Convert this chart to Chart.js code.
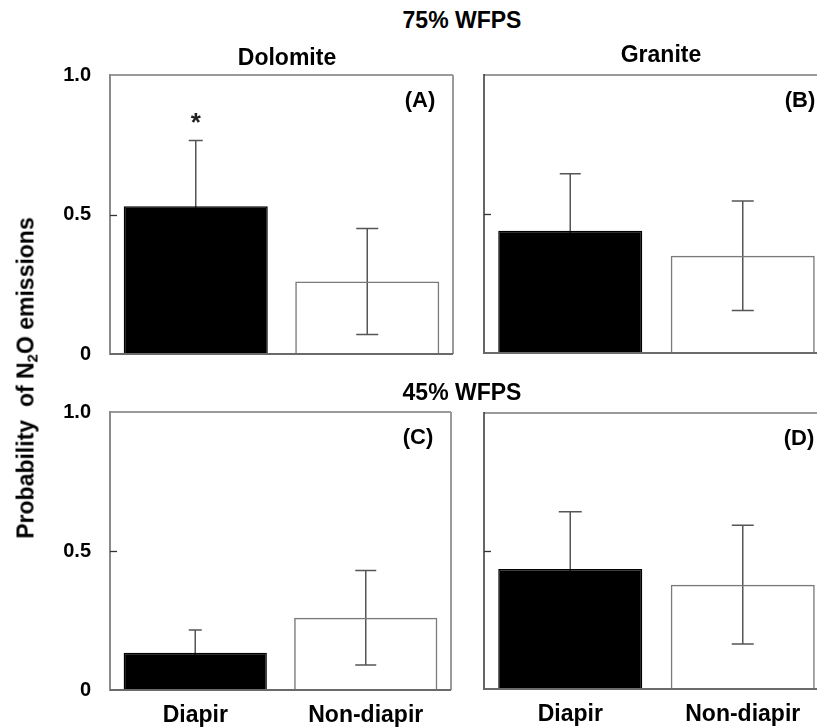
<!DOCTYPE html>
<html>
<head>
<meta charset="utf-8">
<script src="https://cdn.jsdelivr.net/npm/chart.js@4.4.1/dist/chart.umd.min.js"></script>
<style>
  html, body { margin: 0; padding: 0; background: #fff; overflow: hidden; }
  body { width: 817px; height: 728px; position: relative; overflow: hidden; font-family: "Liberation Sans", Arial, sans-serif; font-weight: bold; color: #000; }
  .box { position: absolute; }
  .txt { position: absolute; transform: translate(-50%, -50%); line-height: 1; white-space: nowrap; font-size: 23px; z-index: 2; }
  .lab { font-size: 22px; }
  .ytitle { transform: translate(-50%, -50%) rotate(-90deg); }
  sub { font-size: 15px; vertical-align: -4px; line-height: 0; }
</style>
</head>
<body>

<div class="txt" style="left:462px; top:20px;">75% WFPS</div>
<div class="txt" style="left:287px; top:57px;">Dolomite</div>
<div class="txt" style="left:661px; top:54px;">Granite</div>
<div class="txt" style="left:462px; top:392px;">45% WFPS</div>
<div class="txt lab" style="left:420px; top:100px;">(A)</div>
<div class="txt lab" style="left:800px; top:100px;">(B)</div>
<div class="txt lab" style="left:418px; top:437px;">(C)</div>
<div class="txt lab" style="left:799px; top:438px;">(D)</div>
<div class="txt ytitle" style="left:26px; top:378px;">Probability&nbsp; of N<sub>2</sub>O emissions</div>

<div class="box" style="left:0px; top:50px; width:470px; height:330px;"><canvas id="panelA"></canvas></div>
<div class="box" style="left:460px; top:50px; width:370px; height:330px;"><canvas id="panelB"></canvas></div>
<div class="box" style="left:0px; top:387px; width:470px; height:341px;"><canvas id="panelC"></canvas></div>
<div class="box" style="left:460px; top:388px; width:370px; height:340px;"><canvas id="panelD"></canvas></div>

<script>
// values (probability of N2O emissions, mean and error)
var categories = ["Diapir", "Non-diapir"];
var dolomite75 = [0.53, 0.26];
var dolomite75Err = [0.235, 0.19];
var granite75 = [0.44, 0.35];
var granite75Err = [0.205, 0.197];
var dolomite45 = [0.134, 0.26];
var dolomite45Err = [0.082, 0.17];
var granite45 = [0.435, 0.378];
var granite45Err = [0.207, 0.215];
var yTicks = [0, 0.5, 1.0];

Chart.defaults.font.family = "'Liberation Sans', Arial, sans-serif";
Chart.defaults.font.weight = "bold";
Chart.defaults.color = "#000";

// error bars go behind the bars, so the black bar hides their lower half
var errorBars = {
    id: 'errorBars',
    beforeDatasetsDraw: function (chart, args, opts) {
        var ctx = chart.ctx;
        var y = chart.scales.y;
        var meta = chart.getDatasetMeta(0);
        var vals = chart.data.datasets[0].data;
        ctx.save();
        ctx.strokeStyle = '#555';
        ctx.lineWidth = 1.5;
        meta.data.forEach(function (bar, i) {
            var top = y.getPixelForValue(vals[i] + opts.errors[i]);
            var bot = y.getPixelForValue(Math.max(0, vals[i] - opts.errors[i]));
            var half = opts.caps[i] / 2;
            ctx.beginPath();
            ctx.moveTo(bar.x, top); ctx.lineTo(bar.x, bot);
            ctx.moveTo(bar.x - half, top); ctx.lineTo(bar.x + half, top);
            ctx.moveTo(bar.x - half, bot); ctx.lineTo(bar.x + half, bot);
            ctx.stroke();
        });
        ctx.restore();
    }
};

// frame, the inner 0.5 tick and the significance star
var panelFrame = {
    id: 'panelFrame',
    afterDatasetsDraw: function (chart, args, opts) {
        var ctx = chart.ctx;
        var a = chart.chartArea;
        var y = chart.scales.y;
        var meta = chart.getDatasetMeta(0);
        var vals = chart.data.datasets[0].data;
        ctx.save();

        ctx.lineWidth = 2;
        ctx.strokeStyle = '#9a9a9a';
        ctx.beginPath();
        ctx.moveTo(a.left, a.top); ctx.lineTo(a.right, a.top);
        ctx.moveTo(a.right, a.top); ctx.lineTo(a.right, a.bottom);
        ctx.stroke();
        ctx.strokeStyle = opts.leftColor;
        ctx.lineWidth = opts.leftWidth;
        ctx.beginPath();
        ctx.moveTo(a.left, a.top - 1); ctx.lineTo(a.left, a.bottom + 1);
        ctx.stroke();
        ctx.strokeStyle = '#6a6a6a';
        ctx.lineWidth = 2;
        ctx.beginPath();
        ctx.moveTo(a.left, a.bottom); ctx.lineTo(a.right, a.bottom);
        ctx.stroke();

        var ty = Math.round(y.getPixelForValue(0.5)) + 0.5;
        ctx.strokeStyle = '#333';
        ctx.lineWidth = 1.3;
        ctx.beginPath();
        ctx.moveTo(a.left, ty); ctx.lineTo(a.left + 7, ty);
        ctx.stroke();

        if (opts.star != null) {
            var b = meta.data[opts.star];
            var st = y.getPixelForValue(vals[opts.star] + opts.errors[opts.star]);
            ctx.fillStyle = '#222';
            ctx.font = "bold 26px 'Liberation Sans', Arial, sans-serif";
            ctx.textAlign = 'center';
            ctx.textBaseline = 'alphabetic';
            ctx.fillText('*', b.x, st - 10);
        }
        ctx.restore();
    }
};

function makePanel(id, values, errors, cfg) {
    var ctx = document.getElementById(id).getContext('2d');
    return new Chart(ctx, {
        type: 'bar',
        data: {
            labels: categories,
            datasets: [{
                data: values,
                backgroundColor: ['#000000', 'rgba(255,255,255,0)'],
                borderColor: ['#000000', '#7a7a7a'],
                borderWidth: 1.5,
                barPercentage: cfg.barPct,
                categoryPercentage: 1.0
            }]
        },
        options: {
            responsive: true,
            maintainAspectRatio: false,
            animation: false,
            layout: { padding: cfg.padding },
            plugins: {
                legend: { display: false },
                tooltip: { enabled: false },
                errorBars: { errors: errors, caps: cfg.caps },
                panelFrame: {
                    errors: errors,
                    star: cfg.star,
                    leftColor: cfg.leftColor,
                    leftWidth: cfg.leftWidth
                }
            },
            scales: {
                x: {
                    display: cfg.showX,
                    grid: { display: false, drawTicks: false },
                    border: { display: false },
                    ticks: { padding: 12, font: { size: 23, weight: 'bold' }, color: '#000' },
                    afterFit: function (s) { s.height = cfg.xHeight; }
                },
                y: {
                    min: 0,
                    max: 1,
                    afterBuildTicks: function (s) {
                        s.ticks = yTicks.map(function (v) { return { value: v }; });
                    },
                    grid: { display: false, drawTicks: true, tickLength: 19 },
                    border: { display: false },
                    ticks: {
                        display: cfg.showY,
                        padding: 0,
                        font: { size: 20, weight: 'bold' },
                        color: '#000',
                        callback: function (v) { return v === 0 ? '0' : v.toFixed(1); }
                    },
                    afterFit: function (s) { s.width = cfg.yWidth; }
                }
            }
        },
        plugins: [errorBars, panelFrame]
    });
}

makePanel('panelA', dolomite75, dolomite75Err, {
    padding: { top: 25, right: 17, bottom: 26, left: 0 },
    showX: false, xHeight: 0, showY: true, yWidth: 110, barPct: 0.84,
    caps: [14, 22], star: 0, leftColor: '#8a8a8a', leftWidth: 2
});
makePanel('panelB', granite75, granite75Err, {
    padding: { top: 25, right: 1, bottom: 27, left: 0 },
    showX: false, xHeight: 0, showY: false, yWidth: 24, barPct: 0.835,
    caps: [21, 22], star: null, leftColor: '#333', leftWidth: 1.5
});
makePanel('panelC', dolomite45, dolomite45Err, {
    padding: { top: 25, right: 19, bottom: 0, left: 0 },
    showX: true, xHeight: 38, showY: true, yWidth: 110, barPct: 0.84,
    caps: [13, 21], star: null, leftColor: '#8a8a8a', leftWidth: 2
});
makePanel('panelD', granite45, granite45Err, {
    padding: { top: 25, right: 1, bottom: 0, left: 0 },
    showX: true, xHeight: 39, showY: false, yWidth: 24, barPct: 0.835,
    caps: [23, 22], star: null, leftColor: '#333', leftWidth: 1.5
});
</script>
</body>
</html>
